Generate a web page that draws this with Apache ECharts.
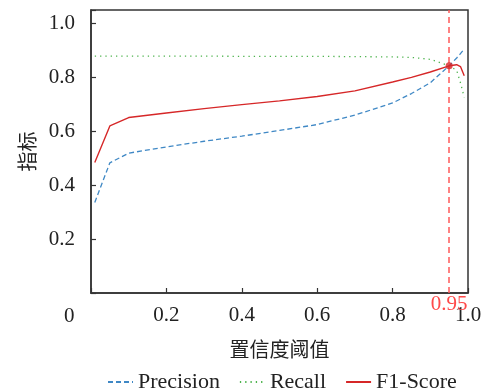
<!DOCTYPE html>
<html>
<head>
<meta charset="utf-8">
<script src="https://cdn.jsdelivr.net/npm/echarts@6/dist/echarts.min.js"></script>
<style>html,body{margin:0;padding:0;background:#fff}#c{width:488px;height:391px}</style>
</head>
<body>
<div id="c"></div>
<script>
var thresholds = [0.01, 0.05, 0.1, 0.2, 0.3, 0.4, 0.5, 0.6, 0.7, 0.8, 0.85, 0.9, 0.95, 0.97, 0.98, 0.99];
var precision  = [0.336, 0.483, 0.519, 0.542, 0.563, 0.582, 0.603, 0.625, 0.660, 0.705, 0.740, 0.780, 0.843, 0.872, 0.888, 0.905];
var recall     = [0.879, 0.879, 0.879, 0.879, 0.879, 0.878, 0.878, 0.878, 0.877, 0.876, 0.874, 0.867, 0.843, 0.826, 0.780, 0.726];
var f1         = [0.484, 0.620, 0.651, 0.668, 0.684, 0.699, 0.713, 0.729, 0.750, 0.783, 0.800, 0.820, 0.843, 0.847, 0.840, 0.806];
var bestThreshold = 0.95;
var bestValue = 0.843;
var xTicks = [0.2, 0.4, 0.6, 0.8, 1.0];
var yTicks = [0.2, 0.4, 0.6, 0.8, 1.0];
var seriesNames = ['Precision', 'Recall', 'F1-Score'];

function pairs(xs, ys) { return xs.map(function (x, i) { return [x, ys[i]]; }); }
function inList(v, list) { return list.some(function (t) { return Math.abs(t - v) < 1e-6; }); }

var FONT = 'Liberation Serif';
var chart = echarts.init(document.getElementById('c'), null, {renderer: 'canvas'});
chart.setOption({
  animation: false,
  textStyle: {fontFamily: FONT},
  grid: {left: 91, right: 20, top: 10, bottom: 98, show: true, borderColor: '#333', borderWidth: 1.5, backgroundColor: 'transparent'},
  legend: {
    bottom: -7, left: 102, itemGap: 19, itemWidth: 25, itemHeight: 10,
    itemStyle: {opacity: 0},
    textStyle: {fontFamily: FONT, fontSize: 22, color: '#222'},
    data: seriesNames
  },
  graphic: [{type: 'text', left: 64, top: 306, style: {text: '0', font: '21px "Liberation Serif"', fill: '#222'}}],
  xAxis: {
    type: 'value', min: 0, max: 1.0, interval: 0.2,
    name: '置信度阈值', nameLocation: 'middle', nameGap: 46,
    nameTextStyle: {fontFamily: 'Noto Sans CJK SC', fontSize: 20, color: '#222'},
    axisLine: {lineStyle: {color: '#333', width: 1.5}},
    axisTick: {inside: true, length: 5, lineStyle: {color: '#333', width: 1.2}},
    axisLabel: {fontSize: 21, color: '#222', margin: 12, fontFamily: FONT,
      formatter: function (v) { return inList(v, xTicks) ? v.toFixed(1) : ''; }},
    splitLine: {show: false}
  },
  yAxis: {
    type: 'value', min: 0, max: 1.05, interval: 0.2,
    name: '指标', nameLocation: 'middle', nameGap: 53, nameRotate: 90,
    nameTextStyle: {fontFamily: 'Noto Sans CJK SC', fontSize: 20, color: '#222'},
    axisLine: {lineStyle: {color: '#333', width: 1.5}},
    axisTick: {inside: true, length: 5, lineStyle: {color: '#333', width: 1.2}},
    axisLabel: {fontSize: 21, color: '#222', margin: 16, fontFamily: FONT,
      formatter: function (v) { return inList(v, yTicks) ? v.toFixed(1) : ''; }},
    splitLine: {show: false}
  },
  series: [
    {name: seriesNames[0], type: 'line', data: pairs(thresholds, precision), symbol: 'none',
     lineStyle: {color: '#3f88c5', width: 1.3, type: [5, 3]}, itemStyle: {color: '#3f88c5'}},
    {name: seriesNames[1], type: 'line', data: pairs(thresholds, recall), symbol: 'none',
     lineStyle: {color: '#4db34d', width: 1.3, type: [1.3, 4]}, itemStyle: {color: '#4db34d'}},
    {name: seriesNames[2], type: 'line', data: pairs(thresholds, f1), symbol: 'none',
     lineStyle: {color: '#d62728', width: 1.4}, itemStyle: {color: '#d62728'},
     markLine: {
       silent: true, symbol: ['none', 'none'],
       lineStyle: {color: '#ff5a5a', width: 1.5, type: [6, 4]},
       label: {show: true, position: 'start', formatter: String(bestThreshold), color: '#ff4a4a', fontSize: 21, fontFamily: FONT, distance: 1},
       data: [{xAxis: bestThreshold}]
     }},
    {name: 'best', type: 'scatter', data: [[bestThreshold, bestValue]], symbolSize: 7,
     itemStyle: {color: '#d62728'}, z: 5}
  ]
});
</script>
</body>
</html>
